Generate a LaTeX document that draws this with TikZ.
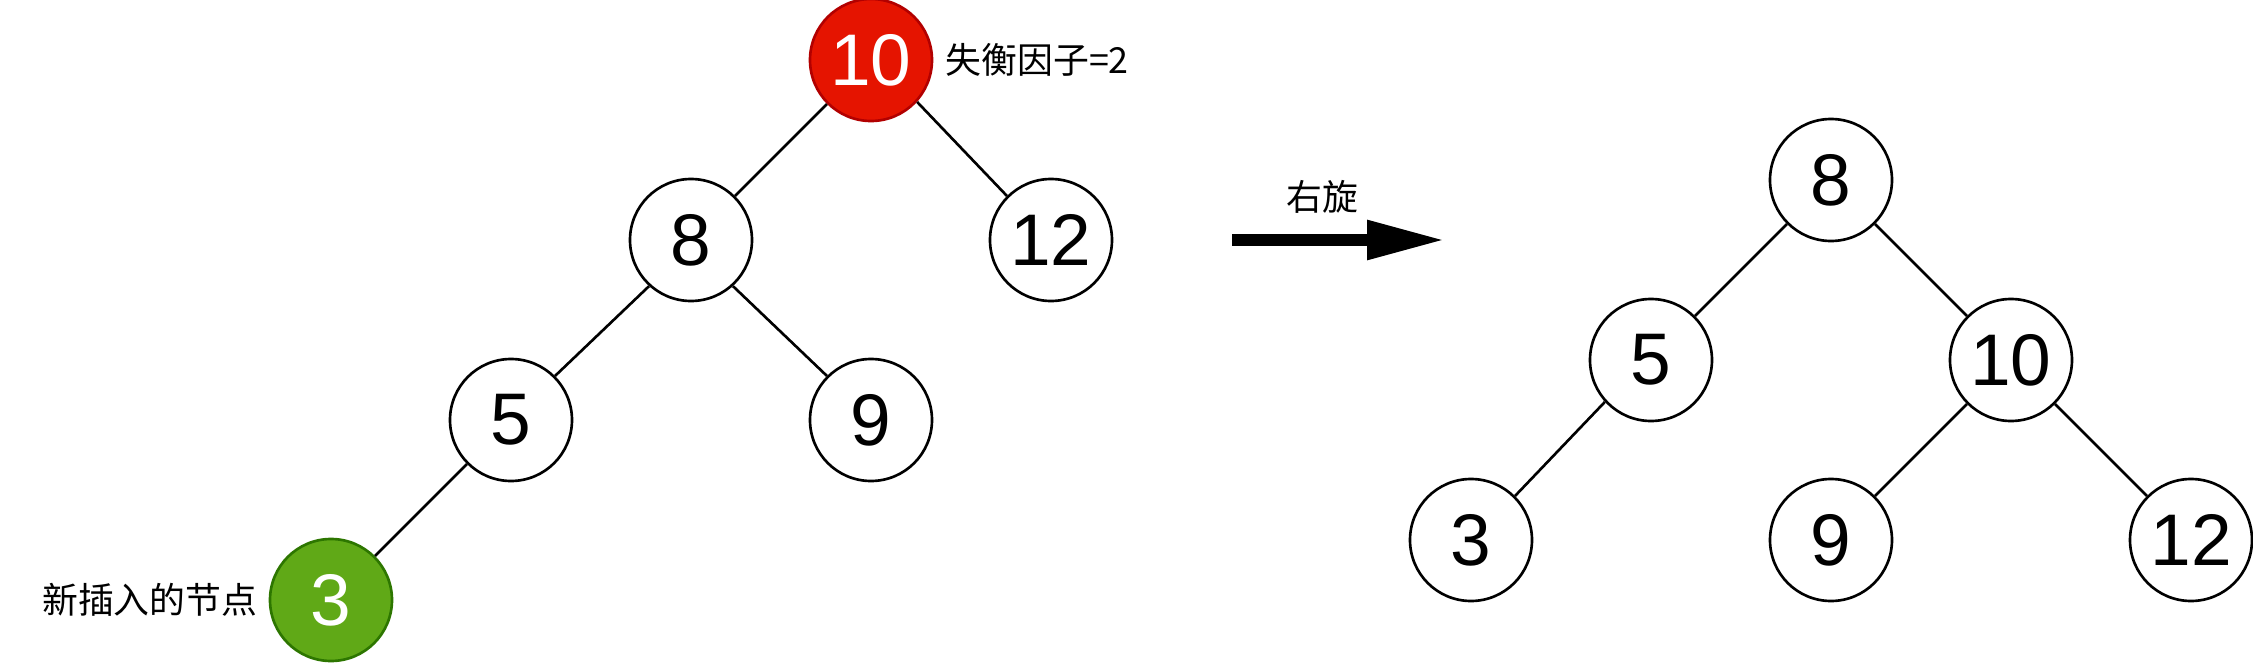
\documentclass[tikz,border=0pt]{standalone}
\usepackage{fontspec}
\usepackage{xcolor}
\usetikzlibrary{arrows.meta}
\setmainfont{Liberation Sans}
\newfontfamily\cjkfont{Noto Sans CJK SC}
\definecolor{cRed}{HTML}{E51400}
\definecolor{cRedLine}{HTML}{B20000}
\definecolor{cGreen}{HTML}{60A917}
\definecolor{cGreenLine}{HTML}{2D7600}

\begin{document}
\begin{tikzpicture}[
  every node/.style={font=\fontsize{20.8pt}{24pt}\selectfont},
  tnode/.style={circle, draw=black, line width=0.75pt, fill=white, minimum size=1.22cm, inner sep=0pt},
  note/.style={font=\cjkfont\fontsize{10.2pt}{12pt}\selectfont, inner sep=0pt},
  edge/.style={line width=0.75pt},
  rotarrow/.style={line width=0.12cm, -{Triangle[length=0.78cm, width=0.37cm]}},
]

\useasboundingbox (0,0) rectangle (22.53,6.66);

% before rotation
\node[tnode, fill=cRed, draw=cRedLine, text=white] (l10) at (8.71,6.06) {10};
\node[tnode] (l8) at (6.91,4.26) {8};
\node[tnode] (l12) at (10.51,4.26) {12};
\node[tnode] (l5) at (5.11,2.46) {5};
\node[tnode] (l9) at (8.71,2.46) {9};
\node[tnode, fill=cGreen, draw=cGreenLine, text=white] (l3) at (3.31,0.66) {3};

\node[note, anchor=west] (bf) at (9.45,6.06) {失衡因子=2};
\node[note, anchor=east] (new) at (2.58,0.66) {新插入的节点};

\draw[edge] (l10) -- (l8);
\draw[edge] (l10) -- (l12);
\draw[edge] (l8) -- (l5);
\draw[edge] (l8) -- (l9);
\draw[edge] (l5) -- (l3);

% rotation arrow
\coordinate (rs) at (12.32,4.26);
\coordinate (re) at (14.45,4.26);
\draw[rotarrow] (rs) -- (re);
\node[note] (rot) at (13.22,4.69) {右旋};

% after rotation
\node[tnode] (r8) at (18.31,4.86) {8};
\node[tnode] (r5) at (16.51,3.06) {5};
\node[tnode] (r10) at (20.11,3.06) {10};
\node[tnode] (r3) at (14.71,1.26) {3};
\node[tnode] (r9) at (18.31,1.26) {9};
\node[tnode] (r12) at (21.91,1.26) {12};

\draw[edge] (r8) -- (r5);
\draw[edge] (r8) -- (r10);
\draw[edge] (r5) -- (r3);
\draw[edge] (r10) -- (r9);
\draw[edge] (r10) -- (r12);

\end{tikzpicture}
\end{document}
